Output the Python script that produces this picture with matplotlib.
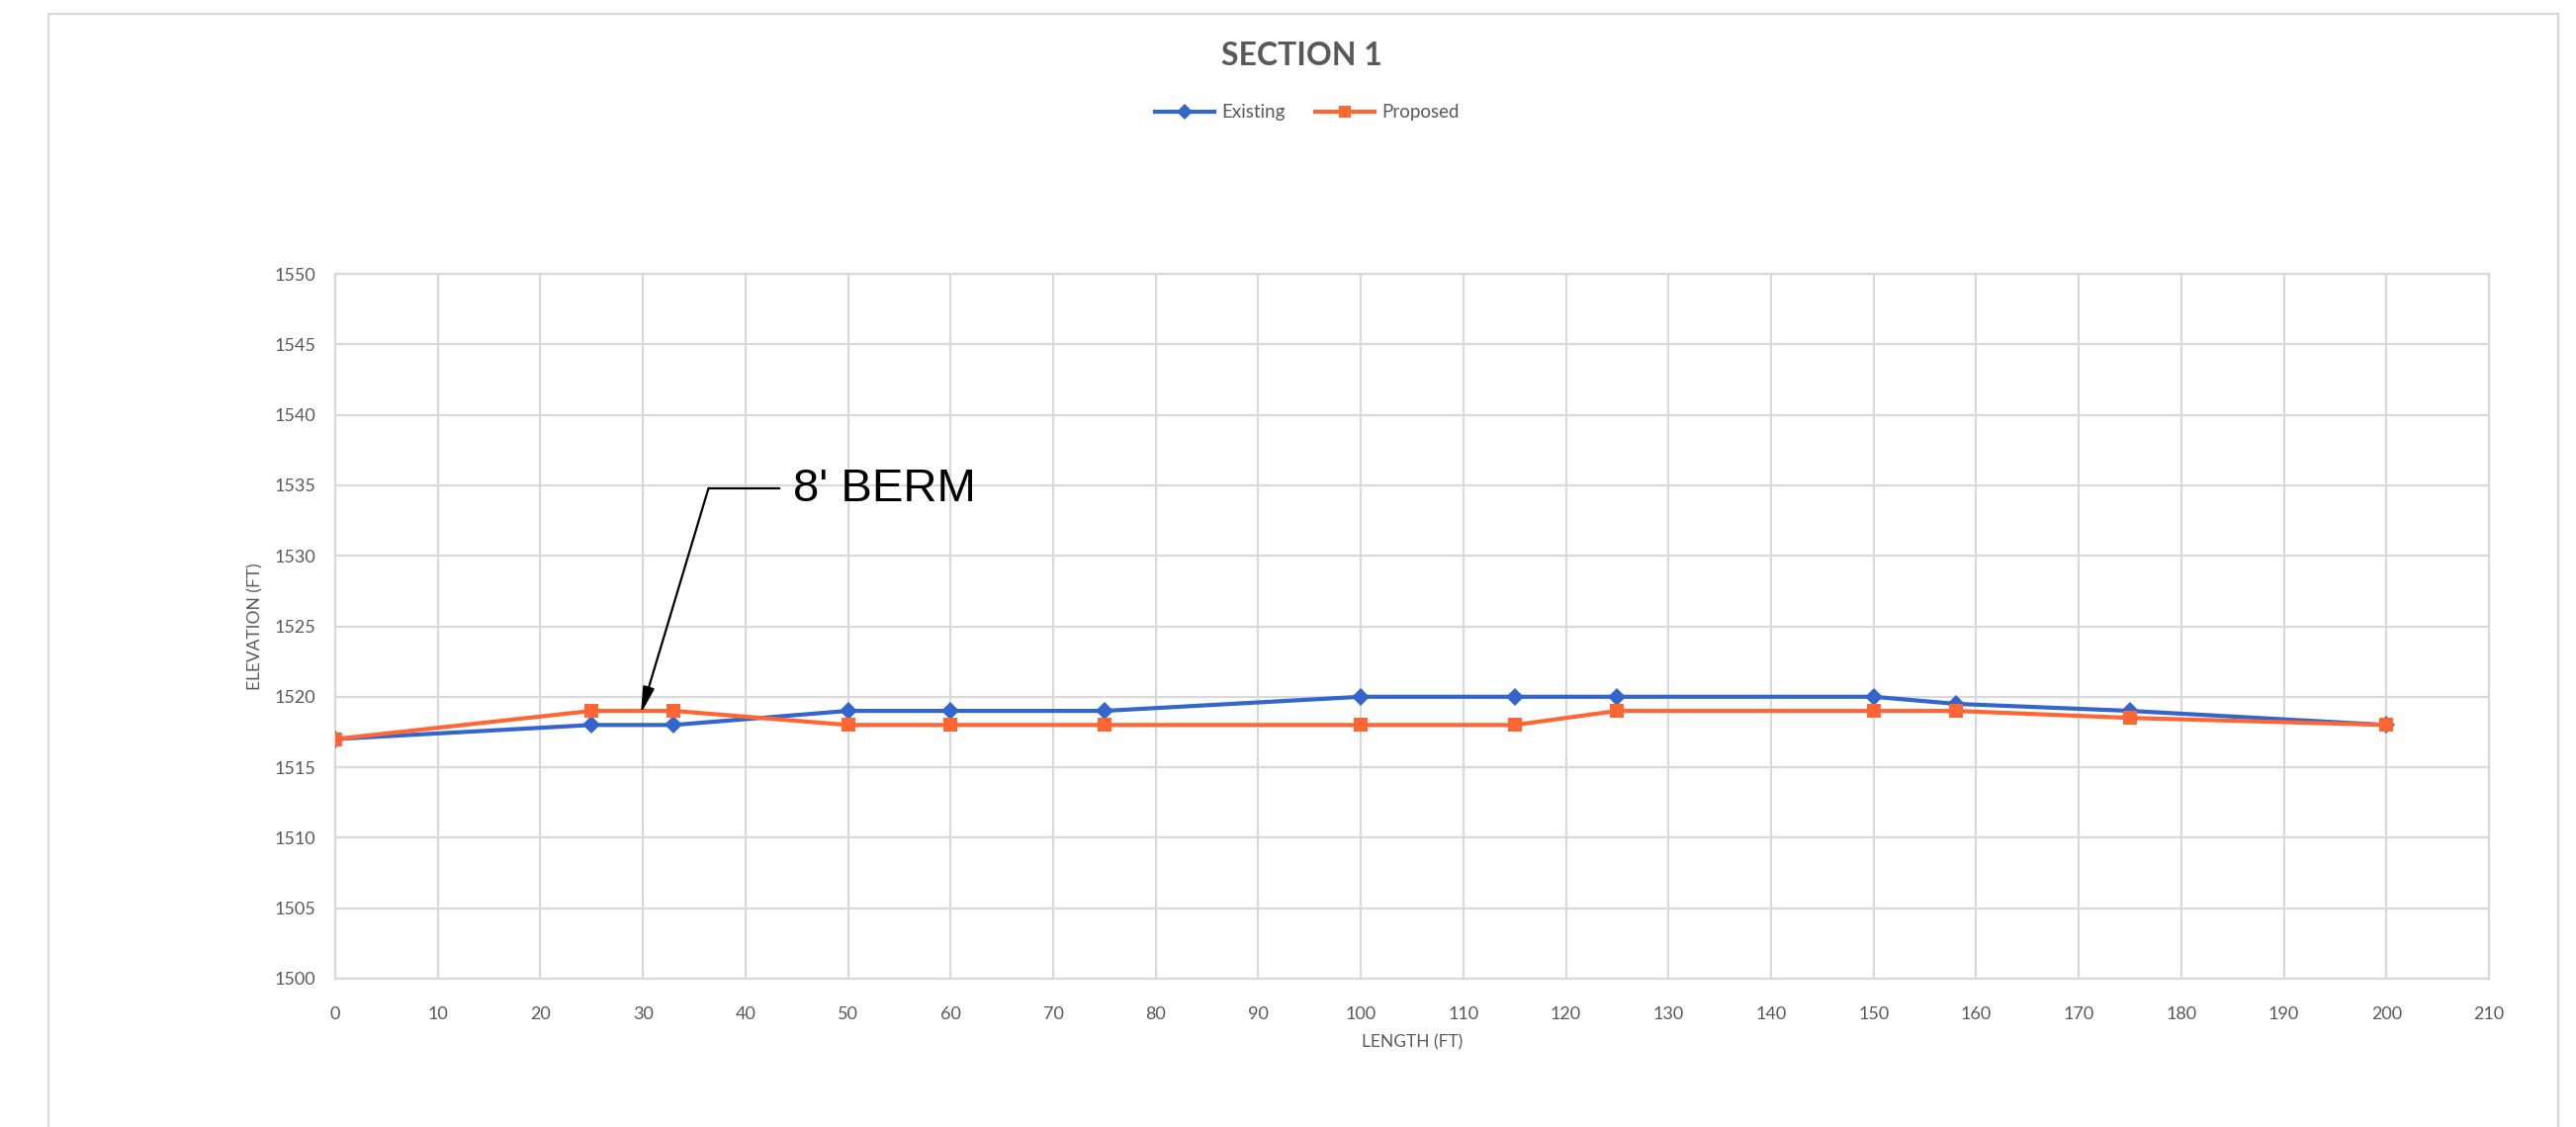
import matplotlib.pyplot as plt
from matplotlib.patches import Rectangle
import numpy as np

# section data (length in ft, elevation in ft)
length = [0, 25, 33, 50, 60, 75, 100, 115, 125, 150, 158, 175, 200]
existing = [1517, 1518, 1518, 1519, 1519, 1519, 1520, 1520, 1520, 1520, 1519.5, 1519, 1518]
proposed = [1517, 1519, 1519, 1518, 1518, 1518, 1518, 1518, 1519, 1519, 1519, 1518.5, 1518]

x_ticks = np.arange(0, 211, 10)
y_ticks = np.arange(1500, 1551, 5)

grid_col = '#d9d9d9'
text_col = '#595959'
blue = '#3366cc'
orange = '#ff6633'

plt.rcParams['font.family'] = ['Lato', 'DejaVu Sans']

fig = plt.figure(figsize=(26.05, 11.4), dpi=100)
ax = fig.add_axes([339 / 2605, 1 - 990 / 1140, (2517 - 339) / 2605, (990 - 277) / 1140])

# outer chart frame
fig.patches.append(Rectangle((49 / 2605, -0.05), (2587 - 49) / 2605, 1.05 - 14 / 1140,
                             transform=fig.transFigure, fill=False, ec=grid_col, lw=1.6))

l1, = ax.plot(length, existing, color=blue, lw=3, marker='D', ms=9.5, mew=0,
              label='Existing', zorder=3)
l2, = ax.plot(length, proposed, color=orange, lw=3, marker='s', ms=10, mew=0,
              label='Proposed', zorder=4)

ax.set_xlim(0, 210)
ax.set_ylim(1500, 1550)
ax.set_xticks(x_ticks)
ax.set_yticks(y_ticks)
ax.grid(True, color=grid_col, lw=1.6)
ax.set_axisbelow(True)
for s in ax.spines.values():
    s.set_color(grid_col)
    s.set_linewidth(1.6)
ax.tick_params(length=0, labelsize=13, labelcolor=text_col)
ax.tick_params(axis='x', pad=20)
ax.tick_params(axis='y', pad=14)

ax.set_xlabel('LENGTH (FT)', fontsize=12.5, color=text_col, labelpad=9)
ax.set_ylabel('ELEVATION (FT)', fontsize=12.5, color=text_col, labelpad=8)

fig.text(1316 / 2605, 1 - 56 / 1140, 'SECTION 1', ha='center', va='center',
         fontsize=23, fontweight='bold', color=text_col)

fig.legend(handles=[l1, l2], loc='center', bbox_to_anchor=(1322 / 2605, 1 - 114 / 1140),
           ncol=2, frameon=False, fontsize=13.5, labelcolor=text_col,
           handlelength=3.2, columnspacing=1.6, handletextpad=0.4, markerscale=0.85)

# berm callout
ax.plot([36.4, 43.3], [1534.8, 1534.8], color='black', lw=1.6, zorder=5)
ax.annotate('', xy=(29.8, 1518.8), xytext=(36.4, 1534.8),
            arrowprops=dict(arrowstyle='-|>,head_length=1.6,head_width=0.35',
                            color='black', lw=1.6, shrinkA=0, shrinkB=0), zorder=5)
ax.text(44.6, 1534.7, "8' BERM", fontsize=34, family='Liberation Sans',
        va='center', ha='left', color='black')

plt.savefig('out.png', dpi=100)
